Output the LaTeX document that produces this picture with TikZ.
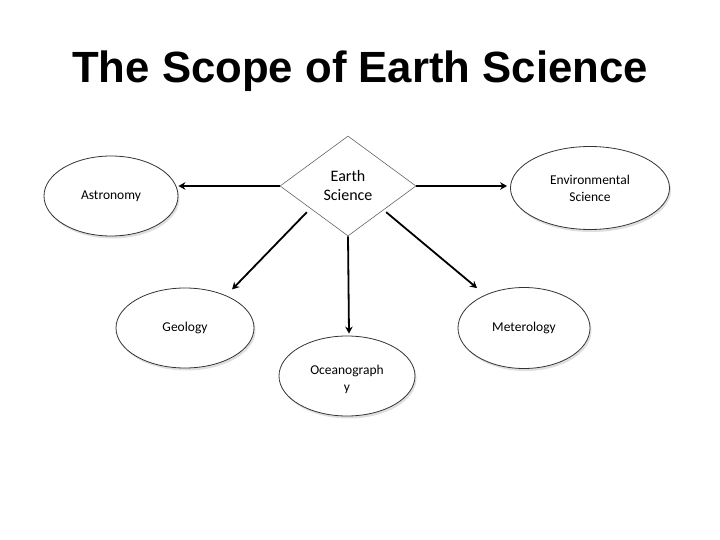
\documentclass[tikz,border=0pt]{standalone}
\usepackage{fontspec}
\setmainfont{Carlito}
\newfontfamily\titlefont{Liberation Sans}
\usetikzlibrary{shapes.geometric,shadows,arrows.meta,calc}
\begin{document}
\begin{tikzpicture}[x=1pt,y=-1pt,
  topic/.style={ellipse,draw=black!80,line width=0.8pt,fill=white,inner sep=0pt,
    drop shadow={opacity=0.25,shadow xshift=1.5pt,shadow yshift=-2.5pt},
    font=\fontsize{13.5}{17}\selectfont,align=center},
  hub/.style={diamond,draw=black!60,line width=0.6pt,fill=white,inner sep=0pt,
    font=\fontsize{16}{19}\selectfont,align=center},
  arr/.style={line width=1.8pt,-{Stealth[length=7pt,width=7.5pt]}}]
\useasboundingbox (0,0) rectangle (720,540);
\node[font=\titlefont\bfseries\fontsize{43.7}{50}\selectfont] (title) at (360,71) {The Scope of Earth Science};
\node[hub,minimum width=136pt,minimum height=100pt] (d) at (348,186) {Earth\\Science};
\node[topic,minimum width=134pt,minimum height=80pt] (ast) at (111,196) {Astronomy};
\node[topic,minimum width=159pt,minimum height=83pt] (env) at (590,188) {Environmental\\Science};
\node[topic,minimum width=138pt,minimum height=80pt] (geo) at (185,328) {Geology};
\node[topic,minimum width=136pt,minimum height=80pt] (oce) at (347,376) {};
\node[font=\fontsize{13.5}{17}\selectfont,align=center] (ocet) at (347,379) {Oceanograph\\y};
\node[topic,minimum width=132pt,minimum height=81pt] (met) at (524,328) {Meterology};
\draw[arr] (d.west) -- (d.west -| ast.east);
\draw[arr,shorten >=3pt] (d.east) -- (d.east -| env.west);
\draw[arr] ([shift={(-7,1)}]d.south west) -- ([shift={(-2,-10)}]geo.north east);
\draw[arr] (d.south) -- ([shift={(2,-2)}]oce.north);
\draw[arr] ([shift={(4,1)}]d.south east) -- ([shift={(0,-11)}]met.north west);
\end{tikzpicture}
\end{document}
